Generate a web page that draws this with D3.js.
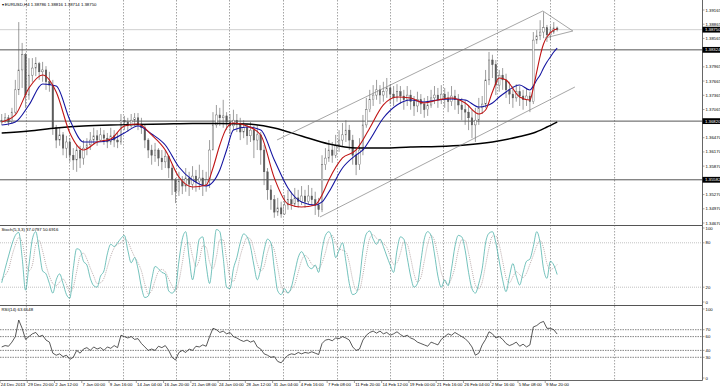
<!DOCTYPE html>
<html>
<head>
<meta charset="utf-8">
<title>EURUSD,H4</title>
<script src="https://cdn.jsdelivr.net/npm/d3@7"></script>
<style>
  body { margin:0; background:#fff; }
  svg { display:block; font-family:'Liberation Sans', Arial, sans-serif; }
  .lbl { font-size:4.3px; fill:#000; }
</style>
</head>
<body>
<svg id="chart" width="720" height="388"></svg>
<script>
// EURUSD H4, one entry per bar
const firstOpen = 1.3680;
const closes = [
  1.3684,1.3689,1.3680,1.3701,1.3748,1.3790,1.3822,1.3737,1.3779,1.3794,
  1.3803,1.3786,1.3790,1.3765,1.3758,1.3668,1.3642,1.3653,1.3625,1.3638,
  1.3610,1.3600,1.3621,1.3604,1.3625,1.3632,1.3642,1.3651,1.3642,1.3653,
  1.3646,1.3638,1.3651,1.3642,1.3638,1.3684,1.3680,1.3672,1.3684,1.3689,
  1.3676,1.3668,1.3642,1.3621,1.3610,1.3621,1.3604,1.3596,1.3608,1.3583,
  1.3558,1.3533,1.3554,1.3545,1.3562,1.3549,1.3566,1.3554,1.3562,1.3547,
  1.3558,1.3621,1.3674,1.3695,1.3689,1.3693,1.3680,1.3672,1.3684,1.3676,
  1.3659,1.3668,1.3651,1.3663,1.3642,1.3653,1.3621,1.3575,1.3537,1.3516,
  1.3490,1.3499,1.3486,1.3505,1.3516,1.3507,1.3520,1.3512,1.3524,1.3512,
  1.3524,1.3516,1.3505,1.3495,1.3590,1.3604,1.3621,1.3610,1.3632,1.3642,
  1.3653,1.3663,1.3642,1.3610,1.3590,1.3621,1.3674,1.3706,1.3727,1.3737,
  1.3748,1.3737,1.3744,1.3752,1.3739,1.3731,1.3744,1.3735,1.3727,1.3737,
  1.3723,1.3714,1.3727,1.3718,1.3706,1.3716,1.3731,1.3737,1.3727,1.3739,
  1.3731,1.3723,1.3735,1.3727,1.3716,1.3706,1.3701,1.3689,1.3674,1.3684,
  1.3710,1.3718,1.3769,1.3811,1.3801,1.3758,1.3779,1.3769,1.3748,1.3739,
  1.3731,1.3744,1.3735,1.3727,1.3735,1.3723,1.3853,1.3862,1.3870,1.3879,
  1.3864,1.3870,1.38786,1.38750];
const highs = [
  1.3697,1.3699,1.3695,1.3710,1.3769,1.3891,1.3847,1.3826,1.3815,1.3815,
  1.3817,1.3807,1.3807,1.3798,1.3786,1.3769,1.3674,1.3668,1.3659,1.3651,
  1.3646,1.3625,1.3632,1.3630,1.3642,1.3646,1.3659,1.3668,1.3663,1.3668,
  1.3663,1.3657,1.3668,1.3663,1.3657,1.3697,1.3693,1.3689,1.3697,1.3699,
  1.3699,1.3689,1.3674,1.3646,1.3632,1.3636,1.3625,1.3621,1.3621,1.3610,
  1.3590,1.3562,1.3575,1.3566,1.3583,1.3575,1.3587,1.3579,1.3590,1.3579,
  1.3575,1.3642,1.3701,1.3716,1.3710,1.3727,1.3701,1.3697,1.3706,1.3697,
  1.3689,1.3684,1.3676,1.3680,1.3672,1.3674,1.3659,1.3632,1.3583,1.3547,
  1.3526,1.3520,1.3512,1.3526,1.3537,1.3533,1.3541,1.3537,1.3545,1.3537,
  1.3547,1.3541,1.3533,1.3520,1.3610,1.3625,1.3642,1.3638,1.3653,1.3663,
  1.3678,1.3684,1.3674,1.3653,1.3621,1.3646,1.3695,1.3731,1.3748,1.3758,
  1.3769,1.3758,1.3765,1.3773,1.3760,1.3756,1.3760,1.3756,1.3748,1.3756,
  1.3748,1.3735,1.3744,1.3739,1.3731,1.3735,1.3748,1.3756,1.3752,1.3758,
  1.3752,1.3744,1.3756,1.3748,1.3739,1.3731,1.3727,1.3716,1.3706,1.3710,
  1.3731,1.3735,1.3790,1.3828,1.3822,1.3811,1.3790,1.3794,1.3782,1.3765,
  1.3756,1.3760,1.3756,1.3748,1.3752,1.3744,1.3870,1.3874,1.3895,1.3912,
  1.3885,1.3883,1.3891,1.38816];
const lows = [
  1.3674,1.3678,1.3672,1.3676,1.3697,1.3737,1.3752,1.3710,1.3727,1.3765,
  1.3777,1.3769,1.3765,1.3748,1.3744,1.3653,1.3625,1.3630,1.3610,1.3604,
  1.3596,1.3579,1.3575,1.3583,1.3590,1.3610,1.3621,1.3632,1.3630,1.3638,
  1.3632,1.3625,1.3632,1.3627,1.3625,1.3632,1.3663,1.3659,1.3668,1.3672,
  1.3663,1.3655,1.3625,1.3604,1.3590,1.3596,1.3587,1.3579,1.3583,1.3562,
  1.3526,1.3509,1.3524,1.3528,1.3533,1.3524,1.3537,1.3533,1.3537,1.3524,
  1.3533,1.3541,1.3621,1.3668,1.3672,1.3668,1.3663,1.3655,1.3663,1.3659,
  1.3642,1.3646,1.3632,1.3638,1.3604,1.3621,1.3590,1.3547,1.3516,1.3495,
  1.3478,1.3482,1.3478,1.3484,1.3495,1.3495,1.3501,1.3499,1.3505,1.3499,
  1.3507,1.3503,1.3484,1.3480,1.3490,1.3579,1.3596,1.3594,1.3604,1.3617,
  1.3630,1.3638,1.3621,1.3590,1.3568,1.3579,1.3610,1.3668,1.3701,1.3714,
  1.3727,1.3718,1.3723,1.3731,1.3718,1.3714,1.3723,1.3718,1.3706,1.3714,
  1.3706,1.3693,1.3701,1.3697,1.3689,1.3693,1.3710,1.3718,1.3710,1.3718,
  1.3710,1.3701,1.3714,1.3706,1.3697,1.3684,1.3674,1.3663,1.3646,1.3638,
  1.3674,1.3697,1.3710,1.3758,1.3773,1.3737,1.3744,1.3748,1.3731,1.3718,
  1.3710,1.3723,1.3714,1.3706,1.3714,1.3701,1.3718,1.3845,1.3853,1.3857,
  1.3849,1.3853,1.3866,1.38714];

// moving averages (bar index -> value)
const maIdx = [0,4,8,12,16,20,24,28,32,36,40,44,48,52,56,60,62,64,66,68,72,76,80,84,88,92,94,96,100,104,106,108,112,116,120,124,128,132,136,140,142,144,146,148,152,155,156,157,158,159,160,161,162,163];
const maFast = [1.36802,1.36950,1.37519,1.37794,1.37435,1.36570,1.36211,1.36380,1.36443,1.36718,1.36760,1.36528,1.36211,1.35641,1.35431,1.35473,1.35831,1.36316,1.36675,1.36781,1.36718,1.36528,1.35620,1.35072,1.35008,1.35051,1.35262,1.35578,1.36042,1.36211,1.36422,1.36675,1.37161,1.37329,1.37308,1.37203,1.37266,1.37308,1.37203,1.36971,1.37055,1.37435,1.37730,1.37688,1.37329,1.37266,1.37519,1.37857,1.38194,1.38448,1.38595,1.38680,1.38743,1.38764];
const maSlow = [1.36739,1.36802,1.37161,1.37604,1.37561,1.36844,1.36380,1.36380,1.36422,1.36570,1.36718,1.36549,1.36316,1.35852,1.35578,1.35452,1.35536,1.35789,1.36211,1.36633,1.36696,1.36633,1.36000,1.35409,1.35114,1.35051,1.35114,1.35325,1.35831,1.36106,1.36211,1.36422,1.36886,1.37161,1.37266,1.37224,1.37266,1.37287,1.37266,1.37118,1.37139,1.37203,1.37329,1.37435,1.37582,1.37477,1.37561,1.37688,1.37794,1.37941,1.38068,1.38173,1.38279,1.38363];
const maLongIdx = [0,8,16,24,32,40,48,56,64,72,80,88,96,104,112,120,128,136,144,152,156,160,163];
const maLong = [1.36570,1.36612,1.36675,1.36718,1.36739,1.36749,1.36760,1.36770,1.36770,1.36760,1.36675,1.36506,1.36338,1.36253,1.36253,1.36274,1.36285,1.36316,1.36380,1.36496,1.36570,1.36696,1.36802];

// Stoch(5,3,3) and RSI(14), one value per bar
const stochMain = [
  26,45,62,78,90,94,60,16,50,85, 95,70,42,38,25,12,30,38,25,10,
  5,45,72,70,55,50,32,22,20,35, 42,65,78,75,80,86,90,70,53,60,
  45,20,6,8,30,48,45,40,38,15, 12,18,55,85,95,60,30,55,85,88,
  50,25,60,98,95,60,20,18,45,60, 80,92,88,75,50,30,45,70,85,80,
  45,15,10,18,12,20,40,60,68,60, 48,45,50,40,70,90,95,85,60,70,
  80,55,25,10,12,30,70,92,96,85, 78,85,75,62,50,40,70,88,85,60,
  35,20,25,55,85,95,90,65,35,20, 30,22,45,75,90,88,70,40,18,12,
  25,45,80,93,95,80,55,30,14,35, 52,35,23,40,55,58,75,95,80,45,
  32,55,50,37.08];
const stochSignal = [
  30,36,44,62,77,87,81,57,42,50, 77,83,69,50,35,25,22,27,31,24,
  13,20,41,62,66,58,46,35,25,26, 32,47,62,73,78,80,85,82,71,61,
  53,42,24,11,15,29,41,44,41,31, 22,15,28,53,78,80,62,48,57,76,
  74,54,45,61,84,84,58,33,28,41, 62,77,87,85,71,52,42,48,67,78,
  70,47,23,14,13,17,24,40,56,63, 59,51,48,45,53,67,85,90,80,72,
  70,68,53,30,16,17,37,64,86,91, 86,83,79,74,62,51,53,66,81,78,
  60,38,27,33,55,78,90,83,63,40, 28,24,32,47,70,84,83,66,43,23,
  18,27,50,73,89,89,77,55,33,26, 34,41,37,33,39,51,63,76,83,73,
  52,44,46,50.69];
const rsi = [
  45,47,46,52,60,84,72,56,60,64, 66,60,62,55,52,36,33,35,31,33,
  27,30,40,36,42,44,40,45,42,44, 40,45,43,47,44,62,60,58,60,56,
  57,50,45,40,42,40,46,44,47,40, 30,26,37,40,37,42,40,46,45,48,
  46,60,72,70,66,68,64,66,60,58, 55,53,55,52,54,45,42,35,33,30,
  31,24,22,28,33,35,34,37,35,37, 36,38,36,34,50,55,56,54,58,57,
  60,58,55,45,40,42,55,62,66,68, 65,68,64,66,62,64,67,63,60,62,
  58,56,52,50,48,46,52,50,48,56, 60,64,62,66,63,60,57,52,45,33,
  36,48,56,67,64,58,60,56,50,47, 49,52,46,49,45,48,74,76,80,82,
  72,72,70,63.65];

const priceTicks = [1.39165,1.38865,1.38565,1.37965,1.37665,1.37365,1.37065,1.36470,1.36170,1.35870,1.35270,1.34970,1.34670];
const levels = [1.38324, 1.36820, 1.35582];
const bid = 1.38750;
// trend lines: [bar, price, bar, price]
const trendLines = [
  [80.8, 1.36422, 158.8, 1.39144],
  [93.4, 1.34797, 168.2, 1.37540],
  [158.8, 1.39144, 167.6, 1.38722],
  [159.4, 1.38574, 167.6, 1.38722]];
const weekBars = [7.1, 19.75, 35.6, 51.15, 66.7, 82.55, 98.4, 113.95, 129.5, 145.35, 160.9, 179.7];
const dateLabels = ["24 Dec 2013","29 Dec 20:00","2 Jan 12:00","7 Jan 00:00","9 Jan 16:00","14 Jan 04:00",
  "16 Jan 20:00","21 Jan 08:00","24 Jan 00:00","28 Jan 12:00","31 Jan 04:00","4 Feb 16:00","7 Feb 08:00",
  "11 Feb 20:00","14 Feb 12:00","19 Feb 00:00","21 Feb 16:00","26 Feb 04:00","2 Mar 16:00","5 Mar 08:00","9 Mar 20:00"];
const labelStep = 8;
const stochLevels = [80, 20];
const stochTicks = [100, 80, 20, 0];
const rsiLevels = [70, 60, 40, 30];
const rsiTicks = [100, 70, 60, 40, 30, 0];

// ---- layout ----
const plotR = 702;
const svg = d3.select('#chart');

const x = d3.scaleLinear().domain([-0.5, 205.5]).range([0, plotR]);
const yMain = d3.scaleLinear().domain([1.34670, 1.39165]).range([223, 10]);
const yStoch = d3.scaleLinear().domain([0, 100]).range([302, 228]);
const yRsi = d3.scaleLinear().domain([0, 100]).range([378, 309]);

svg.append('defs').html(
  '<clipPath id="cMain"><rect x="0" y="0" width="702" height="225"/></clipPath>' +
  '<clipPath id="cStoch"><rect x="0" y="226" width="702" height="79"/></clipPath>' +
  '<clipPath id="cRsi"><rect x="0" y="306" width="702" height="74"/></clipPath>');

// weekly grid
svg.append('g').selectAll('line').data(weekBars).join('line')
  .attr('x1', d => x(d) + 0.5).attr('x2', d => x(d) + 0.5)
  .attr('y1', 0).attr('y2', 380)
  .attr('stroke', '#666').attr('stroke-width', 0.6).attr('stroke-dasharray', '1.5,1.5');

// ---- main panel ----
const gMain = svg.append('g').attr('clip-path', 'url(#cMain)');

gMain.append('line').attr('x1', 0).attr('x2', plotR)
  .attr('y1', yMain(bid)).attr('y2', yMain(bid))
  .attr('stroke', '#c4c4c4').attr('stroke-width', 0.8);
gMain.selectAll('line.lvl').data(levels).join('line').attr('class', 'lvl')
  .attr('x1', 0).attr('x2', plotR)
  .attr('y1', d => yMain(d)).attr('y2', d => yMain(d))
  .attr('stroke', '#555').attr('stroke-width', 1);

const bars = closes.map((c, i) => ({ i, o: i ? closes[i - 1] : firstOpen, h: highs[i], l: lows[i], c }));
gMain.selectAll('line.wick').data(bars).join('line').attr('class', 'wick')
  .attr('x1', d => x(d.i)).attr('x2', d => x(d.i))
  .attr('y1', d => yMain(d.h)).attr('y2', d => yMain(d.l))
  .attr('stroke', '#5a5a5a').attr('stroke-width', 0.6);
gMain.selectAll('rect.body').data(bars).join('rect').attr('class', 'body')
  .attr('x', d => x(d.i) - 0.8).attr('width', 1.6)
  .attr('y', d => yMain(Math.max(d.o, d.c)))
  .attr('height', d => Math.max(0.5, Math.abs(yMain(d.o) - yMain(d.c))))
  .attr('fill', d => d.c >= d.o ? '#fff' : '#5a5a5a')
  .attr('stroke', '#5a5a5a').attr('stroke-width', 0.4);

const maLine = (idx) => d3.line().curve(d3.curveMonotoneX)
  .x((d, k) => x(idx[k])).y(d => yMain(d));
gMain.append('path').datum(maLong).attr('d', maLine(maLongIdx))
  .attr('fill', 'none').attr('stroke', '#000').attr('stroke-width', 1.4);
gMain.append('path').datum(maSlow).attr('d', maLine(maIdx))
  .attr('fill', 'none').attr('stroke', '#1414a0').attr('stroke-width', 1.1);
gMain.append('path').datum(maFast).attr('d', maLine(maIdx))
  .attr('fill', 'none').attr('stroke', '#c01414').attr('stroke-width', 1.1);

gMain.selectAll('line.trend').data(trendLines).join('line').attr('class', 'trend')
  .attr('x1', d => x(d[0])).attr('y1', d => yMain(d[1]))
  .attr('x2', d => x(d[2])).attr('y2', d => yMain(d[3]))
  .attr('stroke', '#808080').attr('stroke-width', 0.7);

// ---- stochastic ----
const gSt = svg.append('g').attr('clip-path', 'url(#cStoch)');
gSt.selectAll('line').data(stochLevels).join('line')
  .attr('x1', 0).attr('x2', plotR).attr('y1', d => yStoch(d)).attr('y2', d => yStoch(d))
  .attr('stroke', '#999').attr('stroke-width', 0.6).attr('stroke-dasharray', '1,1');
const stLine = d3.line().curve(d3.curveMonotoneX).x((d, i) => x(i)).y(d => yStoch(d));
gSt.append('path').datum(stochSignal).attr('d', stLine)
  .attr('fill', 'none').attr('stroke', '#a08c8c').attr('stroke-width', 0.7).attr('stroke-dasharray', '1,1');
gSt.append('path').datum(stochMain).attr('d', stLine)
  .attr('fill', 'none').attr('stroke', '#45aea6').attr('stroke-width', 0.75);

// ---- RSI ----
const gR = svg.append('g').attr('clip-path', 'url(#cRsi)');
gR.selectAll('line').data(rsiLevels).join('line')
  .attr('x1', 0).attr('x2', plotR).attr('y1', d => yRsi(d)).attr('y2', d => yRsi(d))
  .attr('stroke', '#333').attr('stroke-width', 0.6).attr('stroke-dasharray', '1.5,1');
gR.append('path').datum(rsi)
  .attr('d', d3.line().x((d, i) => x(i)).y(d => yRsi(d)))
  .attr('fill', 'none').attr('stroke', '#222').attr('stroke-width', 0.75);

// ---- frame ----
[225.5, 305.5].forEach(yy => svg.append('line').attr('x1', 0).attr('x2', plotR)
  .attr('y1', yy).attr('y2', yy).attr('stroke', '#555').attr('stroke-width', 1.2));
svg.append('line').attr('x1', plotR + 0.5).attr('x2', plotR + 0.5).attr('y1', 0).attr('y2', 380.5)
  .attr('stroke', '#666').attr('stroke-width', 1);
svg.append('line').attr('x1', 0).attr('x2', plotR + 0.5).attr('y1', 380.5).attr('y2', 380.5)
  .attr('stroke', '#666').attr('stroke-width', 1);

// right axis labels
const axisLabels = (g, vals, scale, fmt) => {
  g.selectAll('line').data(vals).join('line')
    .attr('x1', plotR).attr('x2', plotR + 2.5)
    .attr('y1', d => scale(d)).attr('y2', d => scale(d))
    .attr('stroke', '#666').attr('stroke-width', 0.6);
  g.selectAll('text').data(vals).join('text').attr('class', 'lbl')
    .attr('x', plotR + 3.5).attr('y', d => scale(d)).attr('dy', '0.35em')
    .text(fmt);
};
axisLabels(svg.append('g'), priceTicks, yMain, d => d.toFixed(5));
axisLabels(svg.append('g'), stochTicks, yStoch, d => d);
axisLabels(svg.append('g'), rsiTicks, yRsi, d => d);

const tags = svg.append('g').selectAll('g').data([bid].concat(levels)).join('g')
  .attr('transform', d => `translate(${plotR + 0.5},${yMain(d)})`);
tags.append('rect').attr('x', 0).attr('y', -2.9).attr('width', 17.5).attr('height', 5.8).attr('fill', '#000');
tags.append('text').attr('class', 'lbl').attr('x', 2.5).attr('dy', '0.35em')
  .style('fill', '#fff').text(d => d.toFixed(5));

// time axis
const dates = svg.append('g');
dates.selectAll('line').data(dateLabels).join('line')
  .attr('x1', (d, k) => x(k * labelStep - 0.5)).attr('x2', (d, k) => x(k * labelStep - 0.5))
  .attr('y1', 380.5).attr('y2', 383)
  .attr('stroke', '#666').attr('stroke-width', 0.6);
dates.selectAll('text').data(dateLabels).join('text').attr('class', 'lbl')
  .attr('x', (d, k) => x(k * labelStep - 0.5) + 0.8).attr('y', 386.3)
  .text(d => d);

// panel captions
svg.append('text').attr('class', 'lbl').attr('x', 1.5).attr('y', 5.5)
  .text('\u25BE EURUSD,H4  1.38786 1.38816 1.38714 1.38750');
svg.append('text').attr('class', 'lbl').attr('x', 1.5).attr('y', 231)
  .text('Stoch(5,3,3) 37.0797 50.6916');
svg.append('text').attr('class', 'lbl').attr('x', 1.5).attr('y', 311)
  .text('RSI(14) 63.6548');
</script>
</body>
</html>
